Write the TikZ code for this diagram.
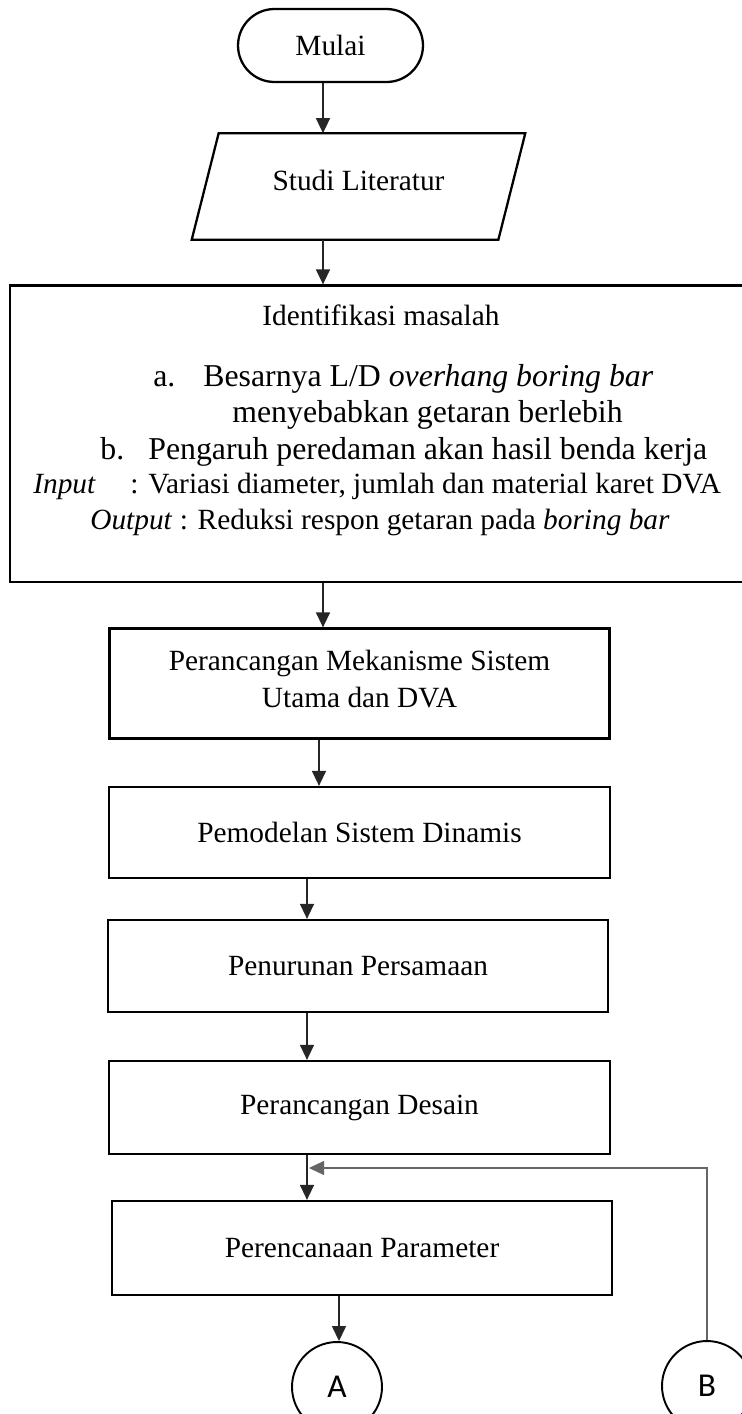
\documentclass[tikz,border=0pt]{standalone}
\usepackage{fontspec}
\setmainfont{Liberation Serif}
\newfontfamily\connfont{Carlito}
\usetikzlibrary{arrows.meta}

\begin{document}
\begin{tikzpicture}[x=0.02cm,y=-0.02cm,
    font=\fontsize{16.7}{21}\selectfont,
    box/.style={draw,line width=1.3pt,inner sep=0pt,align=center},
    txt/.style={inner sep=0pt,anchor=base west},
    big/.style={font=\fontsize{18.1}{21}\selectfont},
    arr/.style={draw=black!85,line width=0.8pt,-{Triangle[length=0.3cm,width=0.28cm]}},
    conn/.style={draw,circle,line width=1.1pt,minimum size=1.8cm,inner sep=0pt,
        font=\connfont\fontsize{19}{22}\selectfont}]
\useasboundingbox (0,0) rectangle (742,1414);

\node[box,rounded corners=0.73cm,minimum width=3.7cm,minimum height=1.46cm] (mulai) at (330.5,45.5) {Mulai};
% input: parallelogram drawn on the node's corners
\node[inner sep=0pt,text depth=0.24cm,minimum width=6.66cm,minimum height=2.12cm] (studi) at (358.5,186.5) {Studi Literatur};
\draw[line width=1.3pt,line join=miter] ([xshift=0.54cm]studi.north west) -- (studi.north east)
    -- ([xshift=-0.54cm]studi.south east) -- (studi.south west) -- cycle;

% box with the problem statement
\node[box,minimum width=14.84cm,minimum height=5.93cm] (masalah) at (381,433.75) {};
\node[inner sep=0pt,anchor=base] (judul) at (381,325) {Identifikasi masalah};
\node[txt,big] (poin a) at (153,386) {\makebox[1cm][l]{a.}Besarnya L/D \textit{overhang boring bar}};
\node[txt,big] (poin a2) at (232,422) {menyebabkan getaran berlebih};
\node[txt,big] (poin b) at (100,459) {\makebox[0.96cm][l]{b.}Pengaruh peredaman akan hasil benda kerja};
\node[txt] (input) at (33,493) {\makebox[1.94cm][l]{\textit{Input}}: Variasi diameter, jumlah dan material karet DVA};
\node[txt] (output) at (90,529) {\textit{Output} : Reduksi respon getaran pada \textit{boring bar}};

\node[box,text depth=0.2cm,minimum width=10cm,minimum height=2.2cm] (rancang) at (359.5,683.5) {Perancangan Mekanisme Sistem\\Utama dan DVA};
\node[box,minimum width=10.02cm,minimum height=1.82cm] (model) at (359.5,832.5) {Pemodelan Sistem Dinamis};
\node[box,minimum width=10cm,minimum height=1.84cm] (turun) at (358,966) {Penurunan Persamaan};
\node[box,minimum width=10.02cm,minimum height=1.86cm] (desain) at (359.5,1107.5) {Perancangan Desain};
\node[box,minimum width=10cm,minimum height=1.88cm] (param) at (362,1248) {Perencanaan Parameter};

% off-page connectors
\node[conn] (A) at (337,1387) {A};
\node[conn] (B) at (707,1386) {B};

\foreach \u/\v/\p in {mulai/studi/323,studi/masalah/323,masalah/rancang/323,rancang/model/319,
    model/turun/307,turun/desain/307,desain/param/307,param/A/339}
  \draw[arr] (\p,0 |- \u.south) -- (\p,0 |- \v.north);

% loop back from B
\coordinate (balik) at (309,1168);
\draw[arr,draw=black!60,line width=0.6pt] (B.north) |- (balik);
\end{tikzpicture}
\end{document}
